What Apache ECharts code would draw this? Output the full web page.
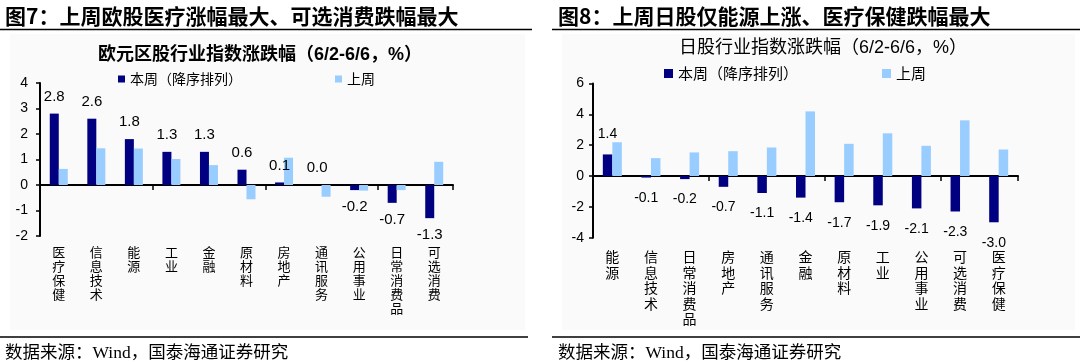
<!DOCTYPE html>
<html>
<head>
<meta charset="utf-8">
<script src="https://cdn.jsdelivr.net/npm/echarts@6/dist/echarts.min.js"></script>
<style>
html,body{margin:0;padding:0;background:#fff;}
#c{width:1080px;height:362px;}
</style>
</head>
<body>
<div id="c"></div>
<script>
// ---- Data ----
const euCategories = ['医疗保健','信息技术','能源','工业','金融','原材料','房地产','通讯服务','公用事业','日常消费品','可选消费'];
const euThisWeek = [2.8, 2.6, 1.8, 1.3, 1.3, 0.6, 0.1, 0.0, -0.2, -0.7, -1.3];
const euLastWeek = [0.63, 1.44, 1.43, 1.02, 0.78, -0.56, 1.07, -0.46, -0.22, -0.2, 0.91];

const jpCategories = ['能源','信息技术','日常消费品','房地产','通讯服务','金融','原材料','工业','公用事业','可选消费','医疗保健'];
const jpThisWeek = [1.4, -0.1, -0.2, -0.7, -1.1, -1.4, -1.7, -1.9, -2.1, -2.3, -3.0];
const jpLastWeek = [2.19, 1.16, 1.53, 1.61, 1.85, 4.19, 2.09, 2.77, 1.96, 3.61, 1.72];

const euYTicks = {min: -2, max: 4, interval: 1};
const jpYTicks = {min: -4, max: 6, interval: 2};

const S1 = '本周（降序排列）';
const S2 = '上周';

// ---- Styles ----
const DARK = '#000080';
const LIGHT = '#99ccff';
const CJK = "'Noto Sans CJK SC'";
const NUM = "'Liberation Sans','Noto Sans CJK SC'";

function labelData(vals, dist) {
  return vals.map(v => ({
    value: v,
    label: {position: v < 0 ? 'bottom' : 'top', distance: dist}
  }));
}

function makeX(gi, cats, lineH, size, margin) {
  return [
    {
      type: 'category', gridIndex: gi, data: cats, position: 'bottom',
      axisLine: {onZero: true, lineStyle: {color: '#000', width: 2}},
      axisTick: {show: true, length: 5, lineStyle: {color: '#000', width: 1.5}},
      axisLabel: {show: false}
    },
    {
      type: 'category', gridIndex: gi, data: cats, position: 'bottom',
      axisLine: {show: false, onZero: false},
      axisTick: {show: false},
      axisLabel: {
        show: true, interval: 0, margin: margin, color: '#000',
        fontFamily: CJK, fontSize: size, lineHeight: lineH,
        verticalAlign: 'top',
        formatter: v => v.split('').join('\n')
      }
    }
  ];
}

function makeY(gi, t, margin) {
  return {
    type: 'value', gridIndex: gi, min: t.min, max: t.max, interval: t.interval,
    splitLine: {show: false},
    axisLine: {show: true, onZero: false, lineStyle: {color: '#000', width: 2}},
    axisTick: {show: true, length: 4, lineStyle: {color: '#000', width: 1.5}},
    axisLabel: {color: '#000', fontFamily: NUM, fontSize: 14, margin: margin}
  };
}

const chart = echarts.init(document.getElementById('c'), null, {renderer: 'canvas'});

const option = {
  animation: false,
  backgroundColor: '#fff',
  title: [
    {text: '图7：上周欧股医疗涨幅最大、可选消费跌幅最大', left: 0, top: 1,
     textStyle: {fontFamily: CJK, fontWeight: 'bold', fontSize: 21, color: '#000'}},
    {text: '图8：上周日股仅能源上涨、医疗保健跌幅最大', left: 553, top: 1,
     textStyle: {fontFamily: CJK, fontWeight: 'bold', fontSize: 21, color: '#000'}},
    {text: '欧元区股行业指数涨跌幅（6/2-6/6，%）', left: 255, top: 41, textAlign: 'center',
     textStyle: {fontFamily: NUM, fontWeight: 'bold', fontSize: 18, color: '#000'}},
    {text: '日股行业指数涨跌幅（6/2-6/6，%）', left: 818, top: 34, textAlign: 'center',
     textStyle: {fontFamily: NUM, fontWeight: 'normal', fontSize: 18, color: '#000'}},
    {text: '数据来源：Wind，国泰海通证券研究', left: 0, top: 340,
     textStyle: {fontFamily: "'Liberation Serif','Noto Sans CJK SC'", fontWeight: 'normal', fontSize: 17.5, color: '#000'}},
    {text: '数据来源：Wind，国泰海通证券研究', left: 553, top: 340,
     textStyle: {fontFamily: "'Liberation Serif','Noto Sans CJK SC'", fontWeight: 'normal', fontSize: 17.5, color: '#000'}}
  ],
  legend: [
    {data: [S1], left: 118, top: 72, padding: 0, icon: 'rect', itemWidth: 7, itemHeight: 7,
     textStyle: {fontFamily: CJK, fontSize: 14, color: '#000'}},
    {data: [S2], left: 335, top: 72, padding: 0, icon: 'rect', itemWidth: 7, itemHeight: 7,
     textStyle: {fontFamily: CJK, fontSize: 14, color: '#000'}},
    {data: [S1], left: 664, top: 66, padding: 0, icon: 'rect', itemWidth: 9, itemHeight: 9,
     textStyle: {fontFamily: CJK, fontSize: 15, color: '#000'}},
    {data: [S2], left: 882, top: 66, padding: 0, icon: 'rect', itemWidth: 9, itemHeight: 9,
     textStyle: {fontFamily: CJK, fontSize: 15, color: '#000'}}
  ],
  graphic: [
    {type: 'rect', z: -10, shape: {x: 10, y: 34, width: 515, height: 296}, style: {fill: '#fafafa'}},
    {type: 'rect', z: -10, shape: {x: 562, y: 34, width: 513, height: 296}, style: {fill: '#fafafa'}},
    {type: 'line', shape: {x1: 0, y1: 29.5, x2: 532, y2: 29.5}, style: {stroke: '#000', lineWidth: 1.5}},
    {type: 'line', shape: {x1: 552, y1: 29.5, x2: 1080, y2: 29.5}, style: {stroke: '#000', lineWidth: 1.5}},
    {type: 'line', shape: {x1: 0, y1: 337, x2: 528, y2: 337}, style: {stroke: '#000', lineWidth: 1.5}},
    {type: 'line', shape: {x1: 552, y1: 337, x2: 1080, y2: 337}, style: {stroke: '#000', lineWidth: 1.5}}
  ],
  grid: [
    {left: 40, top: 83, width: 413, height: 153},
    {left: 593, top: 83.5, width: 425, height: 154.2}
  ],
  xAxis: [].concat(makeX(0, euCategories, 14, 13, 9), makeX(1, jpCategories, 15.5, 14, 11.5)),
  yAxis: [makeY(0, euYTicks, 12), makeY(1, jpYTicks, 9)],
  series: [
    {name: S1, type: 'bar', xAxisIndex: 0, yAxisIndex: 0, barWidth: 9, barGap: '0%',
     itemStyle: {color: DARK},
     label: {show: true, color: '#000', fontFamily: NUM, fontSize: 15, formatter: p => p.value.toFixed(1)},
     data: labelData(euThisWeek, 9.5)},
    {name: S2, type: 'bar', xAxisIndex: 0, yAxisIndex: 0, barWidth: 9, barGap: '0%',
     itemStyle: {color: LIGHT}, data: euLastWeek},
    {name: S1, type: 'bar', xAxisIndex: 2, yAxisIndex: 1, barWidth: 9.5, barGap: '0%',
     itemStyle: {color: DARK},
     label: {show: true, color: '#000', fontFamily: NUM, fontSize: 14, formatter: p => p.value.toFixed(1)},
     data: labelData(jpThisWeek, 13.5)},
    {name: S2, type: 'bar', xAxisIndex: 2, yAxisIndex: 1, barWidth: 9.5, barGap: '0%',
     itemStyle: {color: LIGHT}, data: jpLastWeek}
  ]
};
chart.setOption(option);
</script>
</body>
</html>
